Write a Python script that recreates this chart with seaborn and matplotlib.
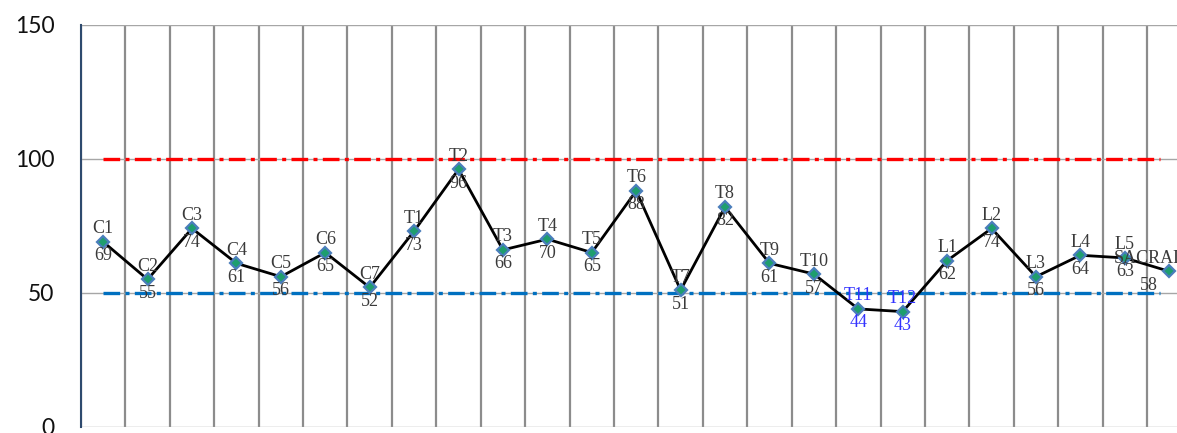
import matplotlib
matplotlib.use('Agg')
import matplotlib.pyplot as plt
from matplotlib.ticker import FixedLocator
import numpy as np
import pandas as pd
import seaborn as sns

levels = ['C1', 'C2', 'C3', 'C4', 'C5', 'C6', 'C7',
          'T1', 'T2', 'T3', 'T4', 'T5', 'T6', 'T7', 'T8', 'T9', 'T10', 'T11', 'T12',
          'L1', 'L2', 'L3', 'L4', 'L5', 'SACRAL']
values = [69, 55, 74, 61, 56, 65, 52,
          73, 96, 66, 70, 65, 88, 51, 82, 61, 57, 44, 43,
          62, 74, 56, 64, 63, 58]
upper_limit = 100
lower_limit = 50
low_levels = ['T11', 'T12']
yticks = [0, 50, 100, 150]

def main():
    sns.set_style('white')
    plt.rcParams['font.family'] = ['Lato', 'DejaVu Sans']

    df = pd.DataFrame({'pos': np.arange(len(levels)), 'value': values, 'level': levels})

    fig = plt.figure(figsize=(11.77, 4.33), dpi=100)
    ax = fig.add_axes([0.0688, 0.0139, 1 - 0.0688, 0.9295])

    n = len(levels)
    ax.hlines(upper_limit, 0, n - 1.2, color='#FF0000', lw=2.4,
              linestyles=(0, (5, 1.6, 1.2, 1.6)), zorder=2)
    ax.hlines(lower_limit, 0, n - 1.2, color='#0070C0', lw=2.4,
              linestyles=(0, (5, 1.6, 1.2, 1.6)), zorder=2)

    sns.lineplot(data=df, x='pos', y='value', ax=ax, color='black', lw=2,
                 marker='D', markersize=6.5, markerfacecolor='#1E9E6E',
                 markeredgecolor='#4A7EBB', markeredgewidth=1.6, zorder=4)

    for i, row in df.iterrows():
        col = '#3333FF' if row['level'] in low_levels else '#3A3A3A'
        dx = -20 if i == n - 1 else 0
        ax.annotate(row['level'], (row['pos'], row['value']), xytext=(dx, 13),
                    textcoords='offset pixels', ha='center', va='center',
                    fontsize=13, color=col, family='Liberation Serif', zorder=5)
        ax.annotate(str(row['value']), (row['pos'], row['value']), xytext=(dx, -14),
                    textcoords='offset pixels', ha='center', va='center',
                    fontsize=13, color=col, family='Liberation Serif', zorder=5)

    ax.set_xlim(-0.5, 24.175)
    ax.set_ylim(0, 150)
    ax.set_yticks(yticks)
    ax.set_xticks([])
    ax.xaxis.set_minor_locator(FixedLocator(np.arange(-0.5, n, 1)))
    ax.grid(which='minor', axis='x', color='#8C8C8C', lw=1.6)
    ax.grid(which='major', axis='y', color='#A6A6A6', lw=1.0)
    ax.tick_params(axis='y', length=0, pad=19, labelsize=16.5, labelcolor='#111111')
    ax.tick_params(axis='x', which='both', length=0)
    ax.set_xlabel('')
    ax.set_ylabel('')
    for s in ['top', 'right', 'bottom']:
        ax.spines[s].set_visible(False)
    ax.spines['left'].set_color('#2E4A6E')
    ax.spines['left'].set_linewidth(1.5)
    ax.set_axisbelow(True)

    fig.savefig('out.png', dpi=100)

if __name__ == '__main__':
    main()
